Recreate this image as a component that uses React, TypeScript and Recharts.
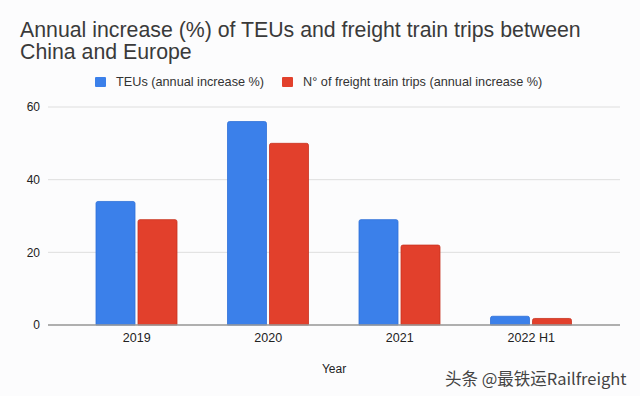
import React from 'react';
import { BarChart, Bar, XAxis, YAxis, CartesianGrid, Legend } from 'recharts';

const categories = ['2019', '2020', '2021', '2022 H1'];
const teus = [34, 56, 29, 2.4];
const trips = [29, 50, 22, 1.8];
const yTicks = [0, 20, 40, 60];

const seriesNames = {
  teus: 'TEUs (annual increase %)',
  trips: 'N° of freight train trips (annual increase %)',
};
const colors = { teus: '#3b80ea', trips: '#e2402c' };

const data = categories.map((c, i) => ({ year: c, teus: teus[i], trips: trips[i] }));

const font = '"Liberation Sans", Arial, Helvetica, sans-serif';

const LegendContent = () => (
  <div style={{ display: 'flex', alignItems: 'center', height: 16, paddingLeft: 95, fontFamily: font, fontSize: 12.7, color: '#333' }}>
    {(['teus', 'trips'] as const).map((k, i) => (
      <div key={k} style={{ display: 'flex', alignItems: 'center', marginRight: i === 0 ? 18 : 0 }}>
        <span style={{ display: 'inline-block', width: 11, height: 10, background: colors[k], borderRadius: 1, marginRight: 10 }} />
        <span style={{ whiteSpace: 'nowrap' }}>{seriesNames[k]}</span>
      </div>
    ))}
  </div>
);

export default function App() {
  return (
    <div style={{ position: 'absolute', left: 0, top: 0, width: 640, height: 396, background: '#fcfcfd', overflow: 'hidden' }}>
      <div style={{ position: 'absolute', left: 20, top: 19, fontFamily: font, fontSize: 21.3, lineHeight: '22px', color: '#3a3a3a', whiteSpace: 'nowrap' }}>
        Annual increase (%) of TEUs and freight train trips between
        <br />
        China and Europe
      </div>
      <BarChart
        width={640}
        height={396}
        data={data}
        margin={{ top: 107, right: 20, bottom: 11, left: 0 }}
        barCategoryGap={25}
        barGap={3}
      >
        <CartesianGrid vertical={false} stroke="#dedede" />
        <XAxis
          dataKey="year"
          padding={{ left: 23, right: 23 }}
          tickLine={false}
          axisLine={{ stroke: '#9a9a9a', strokeWidth: 1.5 }}
          tick={{ fill: '#222', fontSize: 12.5, fontFamily: font }}
          height={60}
          label={{ value: 'Year', position: 'insideBottom', offset: 12, fill: '#222', fontSize: 12, fontFamily: font }}
        />
        <YAxis
          domain={[0, 60]}
          ticks={yTicks}
          width={48}
          tickLine={false}
          axisLine={false}
          tick={{ fill: '#222', fontSize: 12, fontFamily: font }}
        />
        <Legend verticalAlign="middle" content={<LegendContent />} wrapperStyle={{ top: 74, left: 0, width: 640 }} />
        <Bar dataKey="teus" name={seriesNames.teus} fill={colors.teus} stroke="#2f70d8" strokeWidth={0.8} radius={[2, 2, 0, 0]} isAnimationActive={false} />
        <Bar dataKey="trips" name={seriesNames.trips} fill={colors.trips} stroke="#c8321f" strokeWidth={0.8} radius={[2, 2, 0, 0]} isAnimationActive={false} />
      </BarChart>
      <div style={{ position: 'absolute', left: 445, top: 366, fontFamily: '"Noto Sans CJK SC", "Noto Sans", sans-serif', fontSize: 16.5, color: '#444', textShadow: '0 0 2px #fff', whiteSpace: 'nowrap' }}>
        头条 @最铁运Railfreight
      </div>
    </div>
  );
}
